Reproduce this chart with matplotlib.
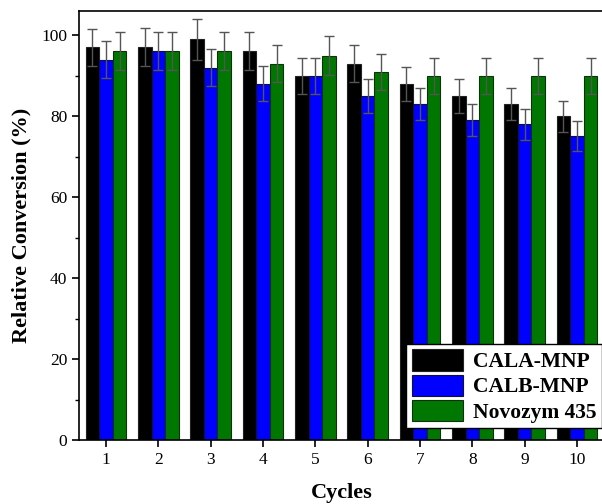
import numpy as np
import matplotlib
matplotlib.use("Agg")
import matplotlib.pyplot as plt
from matplotlib.ticker import MultipleLocator

# Data
cycles = [1, 2, 3, 4, 5, 6, 7, 8, 9, 10]
cala_mnp = [97, 97, 99, 96, 90, 93, 88, 85, 83, 80]
cala_err = [4.6, 4.7, 5.0, 4.7, 4.5, 4.6, 4.2, 4.2, 4.0, 3.8]
calb_mnp = [94, 96, 92, 88, 90, 85, 83, 79, 78, 75]
calb_err = [4.6, 4.7, 4.6, 4.3, 4.5, 4.2, 4.0, 4.0, 3.8, 3.7]
novozym = [96, 96, 96, 93, 95, 91, 90, 90, 90, 90]
novozym_err = [4.7, 4.7, 4.7, 4.6, 4.7, 4.4, 4.4, 4.4, 4.4, 4.4]

plt.rcParams['font.family'] = ['Liberation Serif', 'DejaVu Serif']

fig = plt.figure(figsize=(6.02, 5.04), dpi=100)
ax = fig.add_axes([79 / 602, 64 / 504, 525 / 602, 429 / 504])

x = np.array(cycles)
w = 0.26
err_kw = dict(ecolor='#555555', elinewidth=1.0, capsize=3.5, capthick=1.0)
ax.bar(x - w, cala_mnp, w, yerr=cala_err, color='black', edgecolor='#222222',
       linewidth=0.8, label='CALA-MNP', error_kw=err_kw)
ax.bar(x, calb_mnp, w, yerr=calb_err, color='#0000ff', edgecolor='#101040',
       linewidth=0.8, label='CALB-MNP', error_kw=err_kw)
ax.bar(x + w, novozym, w, yerr=novozym_err, color='#007700', edgecolor='#103010',
       linewidth=0.8, label='Novozym 435', error_kw=err_kw)

ax.set_xlim(0.484, 10.516)
ax.set_ylim(0, 106)
ax.set_xticks(cycles)
ax.yaxis.set_major_locator(MultipleLocator(20))
ax.yaxis.set_minor_locator(MultipleLocator(10))
ax.tick_params(axis='both', which='major', direction='out', length=5, width=1.2,
               labelsize=12.5)
ax.tick_params(axis='y', which='minor', direction='out', length=3, width=1.0)
ax.tick_params(axis='x', which='minor', bottom=False)
for s in ax.spines.values():
    s.set_linewidth(1.2)

ax.set_xlabel('Cycles', fontsize=16, fontweight='bold', labelpad=11)
ax.set_ylabel('Relative Conversion (%)', fontsize=16, fontweight='bold', labelpad=7)

leg = ax.legend(loc='lower right', bbox_to_anchor=(0.996, 0.028), borderaxespad=0,
                fancybox=False, edgecolor='black', framealpha=1,
                prop={'weight': 'bold', 'size': 15.5},
                handlelength=2.4, handleheight=1.15, labelspacing=0.1,
                handletextpad=0.45, borderpad=0.25)
leg.get_frame().set_linewidth(1.0)

fig.savefig('out.png', dpi=100)
